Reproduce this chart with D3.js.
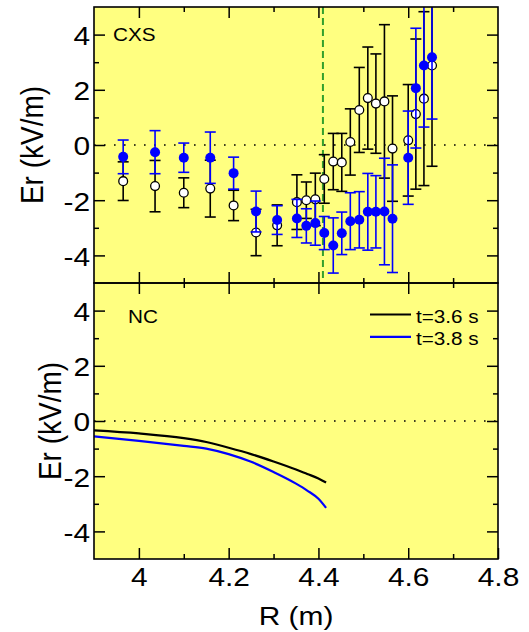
<!DOCTYPE html>
<html>
<head>
<meta charset="utf-8">
<script src="https://cdn.jsdelivr.net/npm/d3@7"></script>
<style>
  body { margin: 0; background: #fff; }
  text { font-family: "Liberation Sans", Arial, sans-serif; fill: #000; }
</style>
</head>
<body>
<div id="chart"></div>
<script>
// major radius (m) of the CXS channels, same for both times
var radius = [3.965, 4.036, 4.1, 4.159, 4.211, 4.261, 4.308, 4.352, 4.373, 4.393, 4.413, 4.433,
  4.452, 4.471, 4.491, 4.51, 4.528, 4.547, 4.565, 4.6, 4.617, 4.635, 4.653];

// CXS Er at t=3.6 s (open circles) and its error
var cxs36 = [-1.31, -1.49, -1.73, -1.58, -2.19, -3.17, -2.91, -2.07, -2.0, -1.97, -1.23, -0.6,
  -0.63, 0.11, 1.27, 1.7, 1.5, 1.58, -0.13, 0.17, 1.12, 1.68, 2.88];
var cxs36Err = [0.7, 0.93, 0.54, 1.03, 0.55, 0.84, 0.74, 0.99, 0.66, 0.95, 0.88, 1.02,
  1.05, 1.2, 1.54, 1.85, 1.8, 2.78, 1.91, 2.02, 2.72, 3.15, 3.65];

// CXS Er at t=3.8 s (filled blue) and its error
var cxs38 = [-0.43, -0.26, -0.46, -0.46, -1.02, -2.41, -2.72, -2.66, -2.93, -2.83, -3.19, -3.64,
  -3.2, -2.76, -2.71, -2.42, -2.42, -2.41, -2.67, -0.46, 2.06, 2.88, 3.18];
var cxs38Err = [0.61, 0.78, 0.53, 0.93, 0.58, 0.74, 0.52, 0.69, 0.62, 0.8, 0.6, 1.0,
  0.77, 1.03, 1.02, 1.39, 1.31, 1.93, 1.95, 1.69, 2.17, 2.23, 2.24];

// neoclassical Er curves
var ncR = [3.9, 4.0, 4.1, 4.15, 4.2, 4.25, 4.3, 4.35, 4.375, 4.4, 4.417];
var nc36 = [-0.34, -0.45, -0.62, -0.76, -0.97, -1.2, -1.47, -1.76, -1.92, -2.08, -2.23];
var nc38 = [-0.56, -0.72, -0.9, -1.0, -1.2, -1.48, -1.85, -2.27, -2.52, -2.82, -3.15];

var markR = 4.41;
var xTicks = [4, 4.2, 4.4, 4.6, 4.8];
var xMinor = [4.1, 4.3, 4.5, 4.7];
var yTicks = [-4, -2, 0, 2, 4];
var yMinor = [-3, -1, 1, 3];
var legendLabels = ["t=3.6 s", "t=3.8 s"];

var SX = 1.15; // text in the original is a bit wide
var left = 94, right = 498;
var width = 529, height = 632;

var svg = d3.select("#chart").append("svg")
    .attr("width", width)
    .attr("height", height);

var x = d3.scaleLinear().domain([3.9, 4.8]).range([left, right]);
var yTop = d3.scaleLinear().domain([-5, 5]).range([283, 7]);
var yBot = d3.scaleLinear().domain([-5, 5]).range([559, 283]);

// plain hyphen for negatives, like the original
var plain = function (d) { return String(d); };

function stretchTicks(g) {
  g.selectAll(".tick text").each(function () {
    var t = d3.select(this);
    t.attr("x", (+t.attr("x") || 0) / SX).attr("transform", "scale(" + SX + ",1)");
  });
}

function styleAxis(g) {
  g.select(".domain").remove();
  g.selectAll(".tick line").attr("stroke", "#000").attr("stroke-width", 1.5);
}

function panel(y, top, bottom, showX, clipId) {
  svg.append("rect")
      .attr("x", left).attr("y", top)
      .attr("width", right - left).attr("height", bottom - top)
      .attr("fill", "#ffff80");

  svg.append("clipPath").attr("id", clipId)
    .append("rect")
      .attr("x", left).attr("y", top)
      .attr("width", right - left).attr("height", bottom - top);

  // zero line
  svg.append("line")
      .attr("x1", left).attr("x2", right)
      .attr("y1", y(0)).attr("y2", y(0))
      .attr("stroke", "#000")
      .attr("stroke-width", 1.6)
      .attr("stroke-dasharray", "1.6,8.4");

  // y ticks, left with labels and right without
  var ly = svg.append("g").attr("transform", "translate(" + left + ",0)")
      .call(d3.axisLeft(y).tickValues(yTicks).tickSize(-11).tickPadding(4)
        .tickFormat(plain));
  styleAxis(ly);
  ly.selectAll(".tick text")
      .attr("font-size", 26).attr("dy", "0.38em")
      .style("font-family", "'Liberation Sans', Arial, sans-serif");
  stretchTicks(ly);

  var lym = svg.append("g").attr("transform", "translate(" + left + ",0)")
      .call(d3.axisLeft(y).tickValues(yMinor).tickSize(-5).tickFormat(""));
  styleAxis(lym);

  var ry = svg.append("g").attr("transform", "translate(" + right + ",0)")
      .call(d3.axisRight(y).tickValues(yTicks).tickSize(-11).tickFormat(""));
  styleAxis(ry);
  var rym = svg.append("g").attr("transform", "translate(" + right + ",0)")
      .call(d3.axisRight(y).tickValues(yMinor).tickSize(-5).tickFormat(""));
  styleAxis(rym);

  // x ticks on top edge, pointing down
  var tx = svg.append("g").attr("transform", "translate(0," + top + ")")
      .call(d3.axisTop(x).tickValues(xTicks.slice(0, 4)).tickSize(-11).tickFormat(""));
  styleAxis(tx);
  var txm = svg.append("g").attr("transform", "translate(0," + top + ")")
      .call(d3.axisTop(x).tickValues(xMinor).tickSize(-5).tickFormat(""));
  styleAxis(txm);

  // x ticks on bottom edge, pointing up
  var bx = svg.append("g").attr("transform", "translate(0," + bottom + ")")
      .call(d3.axisBottom(x).tickValues(showX ? xTicks : xTicks.slice(0, 4))
        .tickSize(-11).tickPadding(9)
        .tickFormat(showX ? plain : ""));
  styleAxis(bx);
  if (showX) {
    bx.selectAll(".tick text").attr("font-size", 26)
      .style("font-family", "'Liberation Sans', Arial, sans-serif");
    stretchTicks(bx);
  }
  var bxm = svg.append("g").attr("transform", "translate(0," + bottom + ")")
      .call(d3.axisBottom(x).tickValues(xMinor).tickSize(-5).tickFormat(""));
  styleAxis(bxm);
}

panel(yTop, 7, 283, false, "clipTop");
panel(yBot, 283, 559, true, "clipBot");

// ---- top panel: CXS ----
var plotTop = svg.append("g").attr("clip-path", "url(#clipTop)");

plotTop.append("line")
    .attr("x1", x(markR)).attr("x2", x(markR))
    .attr("y1", yTop(5)).attr("y2", yTop(-5))
    .attr("stroke", "#33a02c")
    .attr("stroke-width", 2)
    .attr("stroke-dasharray", "7,4");

var d36 = radius.map(function (r, i) { return { r: r, v: cxs36[i], e: cxs36Err[i] }; });
var d38 = radius.map(function (r, i) { return { r: r, v: cxs38[i], e: cxs38Err[i] }; });

function errorBars(g, data, color) {
  var cap = 5.5;
  var bars = g.selectAll(null).data(data).enter().append("g")
      .attr("stroke", color).attr("stroke-width", 1.6);
  bars.append("line")
      .attr("x1", function (d) { return x(d.r); })
      .attr("x2", function (d) { return x(d.r); })
      .attr("y1", function (d) { return yTop(d.v + d.e); })
      .attr("y2", function (d) { return yTop(d.v - d.e); });
  bars.append("line")
      .attr("x1", function (d) { return x(d.r) - cap; })
      .attr("x2", function (d) { return x(d.r) + cap; })
      .attr("y1", function (d) { return yTop(d.v + d.e); })
      .attr("y2", function (d) { return yTop(d.v + d.e); });
  bars.append("line")
      .attr("x1", function (d) { return x(d.r) - cap; })
      .attr("x2", function (d) { return x(d.r) + cap; })
      .attr("y1", function (d) { return yTop(d.v - d.e); })
      .attr("y2", function (d) { return yTop(d.v - d.e); });
}

errorBars(plotTop, d36, "#000");
plotTop.selectAll(null).data(d36).enter().append("circle")
    .attr("cx", function (d) { return x(d.r); })
    .attr("cy", function (d) { return yTop(d.v); })
    .attr("r", 4.4)
    .attr("fill", "#fff")
    .attr("stroke", "#000")
    .attr("stroke-width", 1.3);

errorBars(plotTop, d38, "#0000ff");
plotTop.selectAll(null).data(d38).enter().append("circle")
    .attr("cx", function (d) { return x(d.r); })
    .attr("cy", function (d) { return yTop(d.v); })
    .attr("r", 5)
    .attr("fill", "#0000ff");

// ---- bottom panel: NC ----
var line = d3.line()
    .curve(d3.curveMonotoneX)
    .x(function (d) { return x(d[0]); })
    .y(function (d) { return yBot(d[1]); });

svg.append("path")
    .datum(ncR.map(function (r, i) { return [r, nc36[i]]; }))
    .attr("d", line)
    .attr("fill", "none")
    .attr("stroke", "#000")
    .attr("stroke-width", 2.2);

svg.append("path")
    .datum(ncR.map(function (r, i) { return [r, nc38[i]]; }))
    .attr("d", line)
    .attr("fill", "none")
    .attr("stroke", "#0000ff")
    .attr("stroke-width", 2.2);

// legend
var legendColors = ["#000", "#0000ff"];
legendLabels.forEach(function (lab, i) {
  var ly = 314.5 + i * 22.3;
  svg.append("line")
      .attr("x1", 370).attr("x2", 411)
      .attr("y1", ly).attr("y2", ly)
      .attr("stroke", legendColors[i])
      .attr("stroke-width", 2.2);
  svg.append("text")
      .attr("transform", "translate(416," + (ly + 8.5) + ") scale(" + SX + ",1)")
      .attr("font-size", 18)
      .text(lab);
});

// panel frames
[[7, 283], [283, 559]].forEach(function (p) {
  svg.append("rect")
      .attr("x", left).attr("y", p[0])
      .attr("width", right - left).attr("height", p[1] - p[0])
      .attr("fill", "none")
      .attr("stroke", "#000")
      .attr("stroke-width", 1.6);
});

// labels
svg.append("text")
    .attr("transform", "translate(113,41) scale(" + SX + ",1)")
    .attr("font-size", 18)
    .text("CXS");
svg.append("text")
    .attr("transform", "translate(128,323) scale(" + SX + ",1)")
    .attr("font-size", 18)
    .text("NC");

svg.append("text")
    .attr("transform", "translate(43," + yTop(0) + ") scale(" + SX + ",1) rotate(-90)")
    .attr("text-anchor", "middle")
    .attr("font-size", 28)
    .text("Er (kV/m)");
svg.append("text")
    .attr("transform", "translate(61," + yBot(0) + ") scale(" + SX + ",1) rotate(-90)")
    .attr("text-anchor", "middle")
    .attr("font-size", 28)
    .text("Er (kV/m)");

svg.append("text")
    .attr("transform", "translate(" + ((left + right) / 2) + ",625) scale(" + SX + ",1)")
    .attr("text-anchor", "middle")
    .attr("font-size", 26)
    .text("R (m)");
</script>
</body>
</html>
